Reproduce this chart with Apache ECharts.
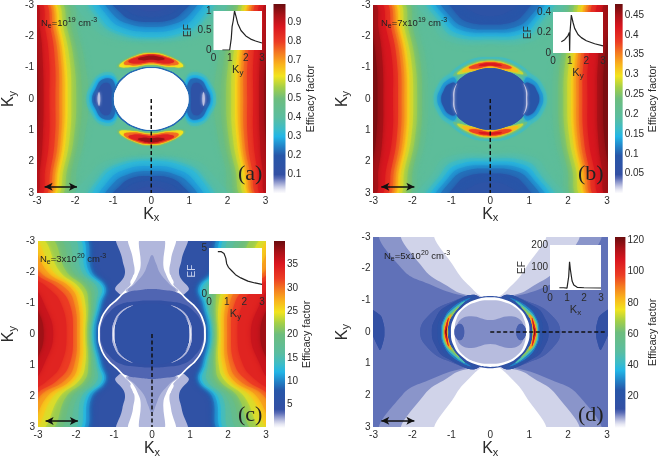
<!DOCTYPE html>
<html><head><meta charset="utf-8">
<style>html,body{margin:0;padding:0;background:#fff}#c{width:660px;height:459px;filter:blur(0.35px)}</style>
<script src="https://cdn.jsdelivr.net/npm/echarts@6/dist/echarts.min.js"></script>
</head><body><div id="c"></div>
<script>
// colour scale stops shared by all colour bars (fraction of bar, colour)
var colorStops=[[0,'#ffffff'],[.02,'#e6e7f3'],[.035,'#c9cce6'],[.06,'#8e98cc'],[.08,'#5a6cb6'],[.1,'#3350a4'],[.2,'#2756a8'],[.25,'#2284c8'],[.3,'#22b5e6'],[.34,'#3cbcc8'],[.4,'#5abda0'],[.5,'#6dbd7e'],[.56,'#a3cf48'],[.62,'#f2e41e'],[.68,'#f9b41c'],[.74,'#f47c20'],[.8,'#ec3c24'],[.88,'#d9161f'],[.94,'#aa1218'],[1,'#6a0c0e']];

// ---------- Panel (a): contour rows ----------
var aLobeY=[-3.2,-2.2,-1.2,0];
var aLobes=[[.46,2.15,1.95,1.75,1.65],[.5,2.33,2.08,1.9,1.82],[.54,2.47,2.2,2.03,1.97],[.58,2.57,2.3,2.14,2.1],[.62,2.65,2.38,2.24,2.2],[.66,2.71,2.45,2.31,2.27],[.7,2.76,2.5,2.37,2.34],[.75,2.82,2.57,2.44,2.42],[.8,2.88,2.64,2.53,2.52],[.86,2.98,2.78,2.68,2.68],[.92,3.1,2.92,2.85,2.83],[.97,3.3,3.1,3,2.97]];
var aDomes=[[.4,[[1.95,-3.2],[1.6,-2.4],[1.1,-1.95],[0,-1.85]]],[.36,[[1.62,-3.2],[1.4,-2.55],[.95,-2.1],[0,-1.93]]],[.32,[[1.5,-3.2],[1.33,-2.6],[.9,-2.17],[0,-1.98]]],[.28,[[1.35,-3.2],[1.15,-2.65],[.75,-2.28],[0,-2.14]]],[.24,[[1.2,-3.2],[1,-2.7],[.6,-2.4],[0,-2.3]]],[.2,[[1.05,-3.2],[.8,-2.75],[.5,-2.52],[0,-2.46]]],[.16,[[.85,-3.2],[.65,-2.85],[.4,-2.68],[0,-2.62]]],[.12,[[.65,-3.2],[.45,-2.95],[0,-2.8]]]];
var aBlobs=[[.36,[[.9,0],[.95,-.75],[1.3,-.82],[1.58,-.45],[1.7,0]]],[.3,[[.9,0],[.95,-.65],[1.3,-.72],[1.52,-.4],[1.62,0]]],[.22,[[.95,0],[1,-.58],[1.28,-.62],[1.46,-.32],[1.55,0]]],[.14,[[1.05,0],[1.08,-.45],[1.25,-.5],[1.4,-.25],[1.5,0]]],[.04,[[1.34,0],[1.37,-.22],[1.41,0]]]];
var aCrescents=[[.5,[[0,-1.5],[.5,-1.37],[.9,-1.03],[.5,-1],[0,-1.07]]],[.62,[[0,-1.47],[.5,-1.33],[.84,-1.05],[.5,-1.02],[0,-1.1]]],[.75,[[0,-1.44],[.45,-1.33],[.72,-1.13],[.45,-1.07],[0,-1.14]]],[.85,[[0,-1.42],[.4,-1.32],[.6,-1.2],[.4,-1.13],[0,-1.18]]],[.95,[[0,-1.38],[.25,-1.33],[.35,-1.28],[.2,-1.24],[0,-1.26]]]];
var aRounds=[[.22,[[1.02,0],[.94,-.39],[.72,-.72],[.39,-.94],[0,-1.02]]],[0,[[.98,0],[.9,-.37],[.69,-.69],[.37,-.9],[0,-.98]]]];

// ---------- Panel (b) ----------
var bLobeY=[-3.2,-2.2,-1.2,0];
var bLobes=[[.21,2.05,1.85,1.65,1.6],[.24,2.2,1.98,1.8,1.75],[.26,2.33,2.1,1.93,1.88],[.28,2.43,2.2,2.03,1.98],[.3,2.52,2.28,2.12,2.08],[.32,2.58,2.34,2.18,2.14],[.34,2.64,2.4,2.24,2.21],[.36,2.7,2.46,2.31,2.28],[.39,2.77,2.54,2.4,2.37],[.42,2.9,2.67,2.52,2.5],[.45,3.05,2.87,2.77,2.75],[.47,3.2,3.05,2.93,2.9]];
var bDomes=[[.19,[[1.85,-3.2],[1.5,-2.4],[1.1,-1.85],[0,-1.75]]],[.17,[[1.62,-3.2],[1.3,-2.45],[.95,-2],[0,-1.9]]],[.15,[[1.5,-3.2],[1.2,-2.5],[.85,-2.1],[0,-2]]],[.13,[[1.38,-3.2],[1.1,-2.55],[.75,-2.2],[0,-2.12]]],[.11,[[1.25,-3.2],[1,-2.6],[.65,-2.3],[0,-2.22]]],[.09,[[1.05,-3.2],[.85,-2.7],[.55,-2.45],[0,-2.38]]],[.07,[[.8,-3.2],[.55,-2.85],[0,-2.65]]]];
var bBlobs=[[.17,[[.85,0],[.9,-.78],[1.15,-.72],[1.36,-.4],[1.45,0]]],[.13,[[.85,0],[.9,-.65],[1.12,-.58],[1.28,-.32],[1.36,0]]],[.09,[[.85,0],[.9,-.5],[1.08,-.46],[1.2,-.25],[1.26,0]]]];
var bCrescents=[[.17,[[0,-1.33],[.6,-1.2],[1.05,-.75],[.6,-.85],[0,-1]]],[.22,[[0,-1.27],[.55,-1.13],[.95,-.75],[.55,-.85],[0,-1]]],[.28,[[0,-1.22],[.5,-1.09],[.85,-.8],[.5,-.87],[0,-1]]],[.32,[[0,-1.2],[.45,-1.09],[.72,-.88],[.45,-.9],[0,-1]]],[.38,[[0,-1.17],[.35,-1.11],[.55,-1],[.35,-.97],[0,-1.05]]],[.42,[[0,-1.14],[.2,-1.12],[.3,-1.07],[.2,-1.05],[0,-1.08]]]];
var bRounds=[[.065,[[1,0],[.92,-.38],[.71,-.71],[.37,-.9],[0,-.98]]]];
var bSlivers=[[.017,[[.95,0],[.94,-.28],[.85,-.5],[.91,-.28],[.92,0]]]];

// ---------- Panel (c) ----------
var cLobeY=[-3.2,-2,-1.5,-1,0];
var cLobes=[[8,1.75,1.5,1.15,1.28,1.42],[10,1.85,1.58,1.22,1.33,1.48],[12,1.95,1.66,1.27,1.38,1.54],[14,2.03,1.73,1.33,1.43,1.58],[16,2.15,1.85,1.45,1.48,1.62],[18,2.38,1.95,1.55,1.54,1.65],[20,2.55,2.08,1.65,1.6,1.68],[22,2.75,2.25,1.78,1.68,1.72],[24,3,2.42,1.92,1.76,1.76],[26,3.2,2.6,2.05,1.85,1.82],[28,3.35,2.75,2.15,1.95,1.9],[30,3.5,2.95,2.3,2.05,1.98],[32,3.7,3.1,2.5,2.18,2.08],[34,3.9,3.3,2.75,2.4,2.25],[36,4.1,3.6,3.1,2.85,2.6],[38,4.3,3.9,3.4,3.1,2.85]];
var cStrips=[[1.8,[[.88,-3.2],[.78,-2.4],[.72,-1.9],[.95,-1.4],[0,-1]]],[0,[[.57,-3.2],[.5,-2.4],[.46,-2],[.55,-1.6],[0,-1.4]]]];
var cRingOuter=[[0,[[1.42,0],[1.38,-.4],[1.2,-.82],[.95,-1.12],[.72,-1.4],[.55,-1.62],[.45,-1.95],[0,-2.1]]]];
var cCaps=[[1.8,[[.28,-3.2],[.3,-2.2],[.36,-1.95],[.5,-1.62],[.68,-1.38],[0,-1.2]]],[2.4,[[0,-2.55],[.1,-2.3],[.22,-1.95],[.45,-1.62],[.62,-1.38],[0,-1.1]]]];
var cRounds=[[3.4,[[1.37,0],[1.33,-.4],[1.16,-.8],[.9,-1.1],[.68,-1.33],[.3,-1.42],[0,-1.45]]],[4.3,[[1.35,0],[1.3,-.38],[1.12,-.7],[.85,-.95],[.45,-1.05],[0,-1.08]]],[4.9,[[1.05,0],[.98,-.4],[.75,-.76],[.4,-.93],[0,-.98]]]];
var cArcs=[[1.8,[[.98,0],[.95,-.4],[.78,-.72],[.5,-.93],[.8,-.75],[1,-.4],[1.05,0]]],[.7,[[1,0],[.97,-.3],[.88,-.55],[.98,-.3],[1.03,0]]]];

// ---------- Panel (d) ----------
var dDomes=[[7.5,[[2.74,-3.2],[2.27,-2],[1.54,-1.5],[.7,-1.15],[0,-1.1]]],[3.8,[[2.19,-3.2],[1.71,-2],[1.1,-1.45],[.7,-1.2],[0,-1.1]]],[0,[[1.36,-3.2],[.9,-2],[.45,-1.35],[.2,-1.1],[0,-1.02]]]];
var dEdges=[[13,[[3.2,-.75],[2.85,-.55],[2.75,-.3],[2.72,0]]]];
var dLens=[[11,[[.3,0],[.3,-1.1],[1.1,-.9],[1.6,-.5],[1.8,0]]],[13.5,[[.3,0],[.3,-1.12],[1.15,-.8],[1.42,-.4],[1.5,0]]],[18,[[.6,0],[.4,-1.12],[1.05,-.82],[1.3,-.4],[1.35,0]]]];
var dBands=[[30,[[1.1,0],[1.08,-.4],[.85,-.78],[.5,-1.08],[.95,-.8],[1.2,-.4],[1.26,0]]],[45,[[1.08,0],[1.06,-.35],[.88,-.68],[.65,-.98],[.93,-.75],[1.17,-.4],[1.23,0]]],[65,[[1.09,0],[1.07,-.3],[.95,-.55],[.8,-.8],[.95,-.65],[1.14,-.4],[1.21,0]]],[85,[[1.1,0],[1.07,-.25],[1,-.55],[1.13,-.35],[1.19,0]]],[105,[[1.12,0],[1.1,-.2],[1.07,-.45],[1.13,-.25],[1.17,0]]],[120,[[1.13,0],[1.12,-.1],[1.1,-.3],[1.12,-.15],[1.15,0]]]];
var dRounds=[[14,[[1.05,0],[1,-.4],[.78,-.78],[.4,-1.04],[0,-1.14]]],[0,[[1.01,0],[.95,-.4],[.73,-.77],[.38,-1.02],[0,-1.1]]],[5.2,[[.91,0],[.87,-.4],[.68,-.74],[.35,-.95],[0,-1]]],[8,[[.85,0],[.8,-.35],[.5,-.5],[0,-.38]]]];
var dOvals=[[11,[[.67,0],[.7,-.18],[.78,-.26],[.88,-.18],[.92,0]]]];

// ---------- Inset curves ----------
var aCurveX=[.55,1,1.02,1.1,1.15,1.22,1.3,1.4,1.5,1.7,2,2.3,2.6,3];
var aCurveY=[0,0,.02,.3,.6,.75,1,.85,.68,.5,.36,.28,.23,.18];
var bCurveX=[.5,.7,.9,.98,1,1.01,1.02,1.1,1.2,1.3,1.5,1.7,2,2.5,3];
var bCurveY=[.11,.13,.17,.2,.02,.12,.2,.37,.3,.24,.18,.15,.12,.09,.07];
var cCurveX=[.5,.7,.85,.95,1,1.1,1.3,1.5,1.8,2.2,2.6,3];
var cCurveY=[4.6,4.6,4.4,3.9,3.3,2.9,2.5,2.1,1.75,1.4,1.2,1.05];
var dCurveX=[.55,.8,1,1.02,1.05,1.1,1.15,1.2,1.3,1.4,1.6,2,3];
var dCurveY=[10,10,8,4,15,60,125,90,40,22,12,10,9];

function rx(p){return p.slice().reverse().map(function(q){return [-q[0],q[1]]})}
function ry(p){return p.slice().reverse().map(function(q){return [q[0],-q[1]]})}
function nx(p){return p.map(function(q){return [-q[0],q[1]]})}
function ny(p){return p.map(function(q){return [q[0],-q[1]]})}
function lobes(ys,rows){return rows.map(function(r){return ['side',r[0],ys.map(function(y,i){return [r[i+1],y]})]})}
function tag(kind,list){return list.map(function(s){return [kind,s[0],s[1]]})}
function build(list,soft){
  var out=[];
  list.forEach(function(s){
    var k=s[0],v=s[1],P=s[2],a,b=soft[k]||0;
    if(k==='full')out.push({v:v,pts:[[-4,-4],[4,-4],[4,4],[-4,4]],sm:0,b:0});
    else if(k==='side'){a=P.concat(ry(P).slice(1),[[5,4],[5,-4]]);out.push({v:v,pts:a,b:b},{v:v,pts:nx(a),b:b})}
    else if(k==='blob'){a=P.concat(ry(P).slice(1,-1));out.push({v:v,pts:a,b:b},{v:v,pts:nx(a),b:b})}
    else if(k==='dome'||k==='cres'){a=P.concat(rx(P).slice(1));if(P[0][0]===0)a=a.slice(0,-1);out.push({v:v,pts:a,b:b},{v:v,pts:ny(a),b:b})}
    else if(k==='round'){
      var q1=P,q2=rx(P).slice(1),q3=ny(nx(P)).slice(1),q4=ry(P).slice(1,-1);
      out.push({v:v,pts:q1.concat(q2,q3,q4),b:b});
    }
  });
  return out;
}
var softAB={side:6,dome:6,blob:3,cres:1.5,round:.4},softC={side:5,dome:0,blob:.5,cres:0,round:0},softD={side:0,dome:0,blob:.5,cres:0,round:0};
var panels=[
 {name:'a',grid:[31.5,4,234,189],bar:[273.5,4,12,189.5],max:.997,tick:.1,prec:1,gapY:19,gapE:15,
  polys:build([['full',.42]].concat(lobes(aLobeY,aLobes),tag('dome',aDomes),tag('blob',aBlobs),tag('cres',aCrescents),tag('round',aRounds)),softAB),
  inset:[213.5,11,48.5,39],ix:aCurveX,iy:aCurveY,imax:1,itick:.5,iname:'K{s|y}',ne:'{t|N}{b|e}{t|=10}{u|19}{t| cm}{u|-3}',nePos:[41,17],
  efColor:'#333',efGap:17,letter:'(a)',lp:[238,163],dash:[[0,0],[0,3]],ah:2.8},
 {name:'b',grid:[373.5,4,233.5,189],bar:[615,4,11.5,189.5],max:.478,tick:.05,prec:2,gapY:22,gapE:18,
  polys:build([['full',.2]].concat(lobes(bLobeY,bLobes),tag('dome',bDomes),tag('blob',bBlobs),tag('cres',bCrescents),tag('round',bRounds),tag('blob',bSlivers)),softAB),
  inset:[553,12,50,41],ix:bCurveX,iy:bCurveY,imax:.4,itick:.2,iname:'K{s|y}',ne:'{t|N}{b|e}{t|=7x10}{u|19}{t| cm}{u|-3}',nePos:[381,17],
  efColor:'#333',efGap:20,letter:'(b)',lp:[578,163],dash:[[0,0],[0,3]],ah:2.8},
 {name:'c',grid:[31.5,241,234.5,187],bar:[274,241,11,187],max:40,tick:5,prec:0,gapY:20,gapE:15,
  polys:build([['full',5]].concat(lobes(cLobeY,cLobes),tag('dome',cStrips),tag('round',cRingOuter),tag('dome',cCaps),tag('round',cRounds),tag('blob',cArcs)),softC),
  inset:[209,248,53,46],ix:cCurveX,iy:cCurveY,imax:5,itick:5,iname:'K{s|y}',ne:'{t|N}{b|e}{t|=3x10}{u|20}{t| cm}{u|-3}',nePos:[40,253],
  efColor:'#c9d2ee',efGap:8,letter:'(c)',lp:[238,404],dash:[[0,0],[0,3]],ah:2.8},
 {name:'d',grid:[373.5,237,233.5,191],bar:[615,237,11.5,191],max:122,tick:20,prec:0,gapY:22,gapE:16,
  polys:build([['full',9.5]].concat(tag('blob',dEdges),tag('dome',dDomes),tag('blob',dLens),tag('blob',dBands),tag('round',dRounds),tag('blob',dOvals)),softD),
  inset:[550,245,51,45],ix:dCurveX,iy:dCurveY,imax:200,itick:100,iname:'K{s|x}',ne:'{t|N}{b|e}{t|=5x10}{u|20}{t| cm}{u|-3}',nePos:[384,250],
  efColor:'#333',efGap:21,letter:'(d)',lp:[578,404],dash:[[0,0],[3,0]],ah:2.8}
];
function cmap(t){
  t=Math.max(0,Math.min(1,t));
  for(var i=1;i<colorStops.length;i++){
    if(t<=colorStops[i][0]){
      var a=colorStops[i-1],b=colorStops[i];
      return echarts.color.lerp((t-a[0])/(b[0]-a[0]),[a[1],b[1]]);
    }
  }
  return colorStops[colorStops.length-1][1];
}
var FONT='"Liberation Sans",Arial,sans-serif',TXT='#2b2b2b';
var grids=[],xs=[],ys=[],series=[],titles=[];
var nameRich={n:{fontFamily:FONT,fontSize:16,color:TXT},s:{fontFamily:FONT,fontSize:11,color:TXT,padding:[7,0,0,0]}};
var smallRich={n:{fontFamily:FONT,fontSize:11,color:TXT},s:{fontFamily:FONT,fontSize:8,color:TXT,padding:[6,0,0,0]}};
panels.forEach(function(p){
  var gi=grids.length,g=p.grid;
  // main map
  grids.push({left:g[0],top:g[1],width:g[2],height:g[3],show:false,z:1});
  xs.push({gridIndex:gi,type:'value',min:-3,max:3,interval:1,axisLine:{show:false},axisTick:{show:false},splitLine:{show:false},
    axisLabel:{fontFamily:FONT,fontSize:10,color:TXT,margin:3},
    name:'{n|K}{s|x}',nameLocation:'middle',nameGap:12,nameTextStyle:{rich:nameRich}});
  ys.push({gridIndex:gi,type:'value',min:-3,max:3,interval:1,inverse:true,axisLine:{show:false},axisTick:{show:false},splitLine:{show:false},
    axisLabel:{fontFamily:FONT,fontSize:10,color:TXT,margin:3},
    name:'{n|K}{s|y}',nameLocation:'middle',nameGap:p.gapY,nameRotate:90,nameTextStyle:{rich:nameRich}});
  series.push({type:'custom',xAxisIndex:gi,yAxisIndex:gi,clip:true,silent:true,z:1,coordinateSystem:'cartesian2d',
    data:p.polys.map(function(s){return [s.pts[0][0],s.pts[0][1],s.v]}),
    encode:{x:0,y:1},
    renderItem:function(params,api){
      var s=p.polys[params.dataIndex],col=cmap(s.v/p.max);
      return {type:'polygon',shape:{points:s.pts.map(function(q){return api.coord(q)}),smooth:s.sm===0?0:.45},
        style:{fill:col,shadowBlur:s.b,shadowColor:col}};
    }});
  series.push({type:'line',xAxisIndex:gi,yAxisIndex:gi,z:2,silent:true,symbol:'none',data:p.dash,
    lineStyle:{color:'#111',width:1.5,type:[4,2.5]},
    markLine:{silent:true,symbol:['arrow','arrow'],symbolSize:[6,8],label:{show:false},lineStyle:{color:'#111',width:1.6,type:'solid'},
      data:[[{coord:[-2.8,p.ah]},{coord:[-1.95,p.ah]}]]}});
  // colour bar
  var bi=grids.length,b=p.bar;
  grids.push({left:b[0],top:b[1],width:b[2],height:b[3],show:false});
  xs.push({gridIndex:bi,type:'category',data:['scale'],show:false});
  ys.push({gridIndex:bi,type:'value',position:'right',min:0,max:p.max,interval:p.tick,axisLine:{show:false},axisTick:{show:false},splitLine:{show:false},
    axisLabel:{fontFamily:FONT,fontSize:10,color:TXT,margin:2,showMinLabel:false,showMaxLabel:false,
      formatter:function(v){return v===0?'':(p.prec?(+v).toFixed(p.prec).replace(/(\.\d)0$/,'$1'):String(Math.round(v)))}},
    name:'Efficacy factor',nameLocation:'middle',nameGap:p.gapE,nameRotate:90,nameTextStyle:{fontFamily:FONT,fontSize:10.8,color:TXT}});
  series.push({type:'bar',xAxisIndex:bi,yAxisIndex:bi,silent:true,barWidth:'100%',data:[p.max],
    itemStyle:{color:new echarts.graphic.LinearGradient(0,1,0,0,colorStops.map(function(c){return {offset:c[0],color:c[1]}}))}});
  // inset
  var ii=grids.length,n=p.inset;
  grids.push({left:n[0],top:n[1],width:n[2],height:n[3],show:true,backgroundColor:'#fff',borderWidth:0,z:3});
  xs.push({gridIndex:ii,type:'value',min:0,max:3,interval:1,z:5,axisLine:{show:false},axisTick:{show:false},splitLine:{show:false},
    axisLabel:{fontFamily:FONT,fontSize:10,color:TXT,margin:3},
    name:p.iname.replace('K{','{n|K}{'),nameLocation:'middle',nameGap:13,nameTextStyle:{rich:smallRich}});
  ys.push({gridIndex:ii,type:'value',min:0,max:p.imax,interval:p.itick,z:5,axisLine:{show:false},axisTick:{show:false},splitLine:{show:false},
    axisLabel:{fontFamily:FONT,fontSize:10,color:TXT,margin:2},
    name:'EF',nameLocation:'middle',nameGap:p.efGap,nameRotate:90,nameTextStyle:{fontFamily:FONT,fontSize:10,color:p.efColor}});
  series.push({type:'line',xAxisIndex:ii,yAxisIndex:ii,z:4,silent:true,symbol:'none',
    lineStyle:{color:'#222',width:1.2},
    data:p.ix.map(function(x,i){return [x,p.iy[i]]})});
  // annotations
  var w={fontFamily:FONT,fontWeight:'normal',color:'#222'};
  titles.push({text:p.ne,left:p.nePos[0],top:p.nePos[1],padding:0,textStyle:{rich:{
    t:Object.assign({fontSize:9.5},w),
    b:Object.assign({fontSize:7,padding:[5,0,0,0]},w),
    u:Object.assign({fontSize:7,padding:[0,0,6,0]},w)}}});
  titles.push({text:p.letter,left:p.lp[0],top:p.lp[1],padding:0,textStyle:{fontFamily:'"Liberation Serif",serif',fontSize:22,fontWeight:'normal',color:'#222'}});
});
var chart=echarts.init(document.getElementById('c'),null,{renderer:'canvas',width:660,height:459});
chart.setOption({animation:false,backgroundColor:'#fff',title:titles,grid:grids,xAxis:xs,yAxis:ys,series:series});
</script></body></html>
